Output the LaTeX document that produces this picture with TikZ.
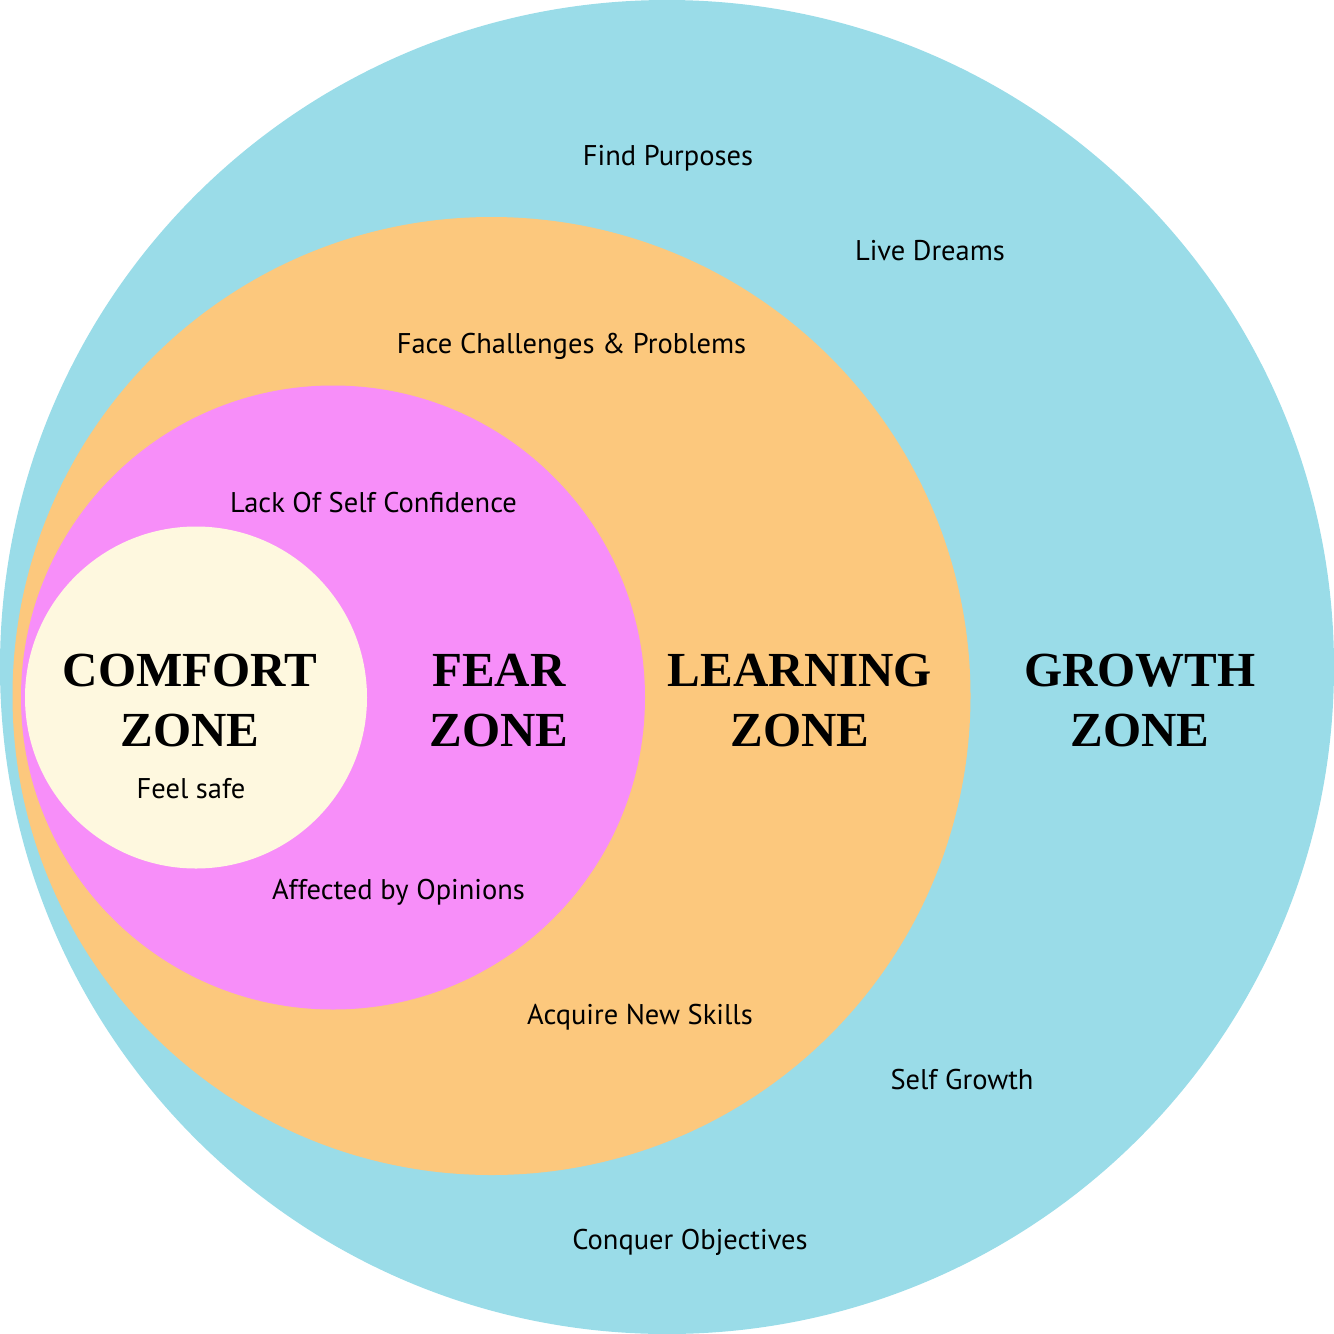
\documentclass[tikz,border=0pt]{standalone}
\usepackage{fontspec}
\setmainfont{PT Sans}
\newfontfamily\zonefont{Liberation Serif}[BoldFont={* Bold}]
\definecolor{growthc}{HTML}{9ADCE8}
\definecolor{learnc}{HTML}{FCC87D}
\definecolor{fearc}{HTML}{F78EF9}
\definecolor{comfortc}{HTML}{FEF8DF}
\tikzset{
  zone/.style={circle, inner sep=0pt, outer sep=0pt, draw=none},
  small/.style={anchor=base, inner sep=0pt, font=\fontsize{28.5}{34}\selectfont},
  big/.style={anchor=base, inner sep=0pt, align=center, font=\zonefont\bfseries\fontsize{49}{60}\selectfont},
}
\begin{document}
\begin{tikzpicture}[x=1pt,y=-1pt]
\useasboundingbox (0,0) rectangle (1334,1334);
\node[zone, fill=growthc, minimum size=1334pt] (growth) at (667,667) {};
\node[zone, fill=learnc, minimum size=958pt] (learning) at (491.5,696) {};
\node[zone, fill=fearc, minimum size=624pt] (fear) at (333,697.5) {};
\node[zone, fill=comfortc, minimum size=342pt] (comfort) at (196,697.5) {};
% zone titles (base = baseline of the last line)
\node[big] (tcomfort) at (190,746) {COMFORT\\ZONE};
\node[big] (tfear) at (499,746) {FEAR\\ZONE};
\node[big] (tlearning) at (800,746) {LEARNING\\ZONE};
\node[big] (tgrowth) at (1140,746) {GROWTH\\ZONE};
% small labels
\node[small] (l1) at (668,165) {Find Purposes};
\node[small] (l2) at (930,260) {Live Dreams};
\node[small] (l3) at (571.5,353) {Face Challenges \& Problems};
\node[small] (l4) at (373.5,512) {Lack Of Self Confidence};
\node[small] (l5) at (191,798) {Feel safe};
\node[small] (l6) at (398.5,899) {Affected by Opinions};
\node[small] (l7) at (640,1024) {Acquire New Skills};
\node[small] (l8) at (962,1089) {Self Growth};
\node[small] (l9) at (690,1249) {Conquer Objectives};
\end{tikzpicture}
\end{document}
